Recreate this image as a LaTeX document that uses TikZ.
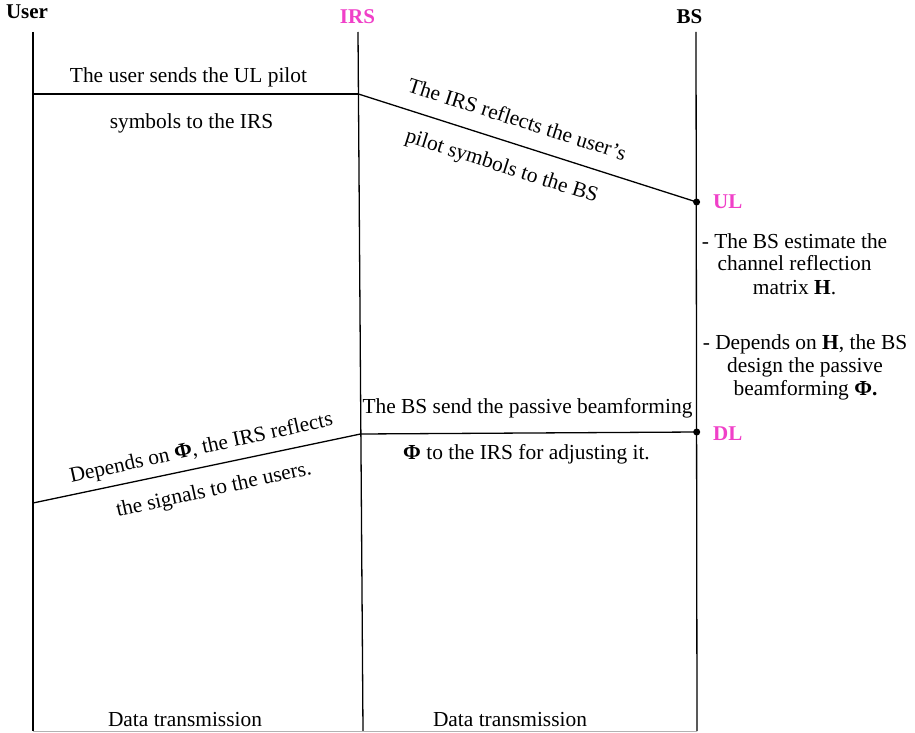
\documentclass[tikz,border=0pt]{standalone}
\usepackage{fontspec}
\setmainfont{Liberation Serif}
\definecolor{irsmag}{RGB}{240,64,200}
\tikzset{
  txt/.style={font=\fontsize{21.4}{23}\selectfont, inner sep=0pt, anchor=base},
  hdr/.style={font=\fontsize{21}{23}\selectfont\bfseries, inner sep=0pt, anchor=base},
  lifeline/.style={line width=1.3pt},
  msg/.style={line width=1.3pt},
  evdot/.style={circle, fill=black, inner sep=0pt, minimum size=7pt},
  faint/.style={line width=1pt, draw=black!30}
}
\begin{document}
\begin{tikzpicture}[x=1pt,y=-1pt]
\useasboundingbox (0,0) rectangle (915,733);
% headers
\node[hdr] (user) at (27,18.5) {User};
\node[hdr, text=irsmag] (irs) at (357.5,24) {IRS};
\node[hdr] (bs) at (689.5,23.3) {BS};
% lifeline end points
\coordinate (userTop) at (33,32);
\coordinate (userBot) at (33,731);
\coordinate (irsTop) at (358,32);
\coordinate (irsBot) at (363,731);
\coordinate (bsTop) at (696,32);
\coordinate (bsBot) at (697,731);
\draw[lifeline] (userTop) -- (userBot);
\draw[lifeline] (irsTop) -- (irsBot);
\draw[lifeline] (bsTop) -- (bsBot);
\draw[faint] (userBot) -- (bsBot);
% message points
\coordinate (u1) at (33,94);
\coordinate (i1) at (358.4,94);
\node[evdot] (ul) at (696.6,202) {};
\node[evdot] (dl) at (696.7,432) {};
\coordinate (i2) at (360.5,434);
\coordinate (u2) at (33,503);
% messages
\draw[msg] (u1) -- (i1);
\draw[msg] (i1) -- (ul.center);
\draw[msg] (dl.center) -- (i2);
\draw[msg] (i2) -- (u2);
% UL / DL labels
\node[hdr, text=irsmag, anchor=base west] (ullab) at (713,208.3) {UL};
\node[hdr, text=irsmag, anchor=base west] (dllab) at (713,440) {DL};
% message texts
\node[txt] (m1a) at (188.5,83) {The user sends the UL pilot};
\node[txt] (m1b) at (191.5,128.5) {symbols to the IRS};
\node[txt, rotate=-17.7] (m2a) at (515,126) {The IRS reflects the user’s};
\node[txt, rotate=-17.7] (m2b) at (500,172) {pilot symbols to the BS};
\node[txt] (m3a) at (527.5,413.3) {The BS send the passive beamforming};
\node[txt] (m3b) at (526.5,459) {\textbf{Φ} to the IRS for adjusting it.};
\node[txt, rotate=12.4] (m4a) at (202.5,454) {Depends on \textbf{Φ}, the IRS reflects};
\node[txt, rotate=12.4] (m4b) at (215,495.5) {the signals to the users.};
% BS side notes
\node[txt] (n1) at (794.5,248.3) {- The BS estimate the};
\node[txt] (n2) at (794.5,270.7) {channel reflection};
\node[txt] (n3) at (794.5,294.3) {matrix \textbf{H}.};
\node[txt] (n4) at (805,349) {- Depends on \textbf{H}, the BS};
\node[txt] (n5) at (805,372.3) {design the passive};
\node[txt] (n6) at (805.5,395) {beamforming \textbf{Φ.}};
% data transmission
\node[txt] (d1) at (185,726) {Data transmission};
\node[txt] (d2) at (510,726) {Data transmission};
\end{tikzpicture}
\end{document}
